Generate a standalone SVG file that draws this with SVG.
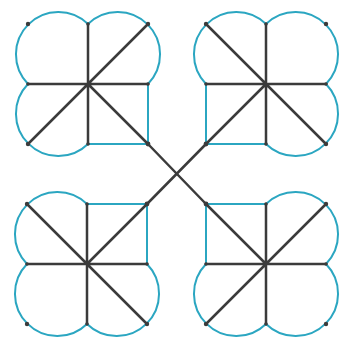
<svg xmlns="http://www.w3.org/2000/svg" width="345" height="342" viewBox="0 0 345 342">
<style>
.lobe{fill:none;stroke:#2ba6c1;stroke-width:2;stroke-linecap:round;stroke-linejoin:round}
.ln{fill:none;stroke:#3b3b3b;stroke-width:2.5;stroke-linecap:round}
.dot{fill:#3b3b3b}
</style>
<defs>
<g id="clover">
<path class="lobe" d="M -60 0 A 42.43 42.43 0 0 1 0 -60"/>
<path class="lobe" d="M 0 -60 A 42.43 42.43 0 0 1 60 0"/>
<path class="lobe" d="M 0 60 A 42.43 42.43 0 0 1 -60 0"/>
<path class="lobe" d="M 60 0 L 60 60 L 0 60"/>
<path class="ln" d="M 0 -60 V 60 M -60 0 H 60 M 60 -60 L -60 60 M 0 0 L 60 60"/>
<circle class="dot" cx="-60" cy="-60" r="2.2"/>
<circle class="dot" cx="60" cy="-60" r="2.2"/>
<circle class="dot" cx="-60" cy="60" r="2.2"/>
<circle class="dot" cx="60" cy="60" r="2.4"/>
<circle class="dot" cx="0" cy="-60" r="1.8"/>
<circle class="dot" cx="0" cy="60" r="1.8"/>
<circle class="dot" cx="-60" cy="0" r="1.8"/>
<circle class="dot" cx="60" cy="0" r="1.8"/>
</g>
</defs>
<g id="connectors">
<path class="ln" d="M 148 144 L 206 204"/>
<path class="ln" d="M 206 144 L 147 204"/>
</g>
<g id="clover-top-left" transform="translate(88,84)"><use href="#clover"/></g>
<g id="clover-top-right" transform="translate(266,84) scale(-1,1)"><use href="#clover"/></g>
<g id="clover-bottom-left" transform="translate(87,264) scale(1,-1)"><use href="#clover"/></g>
<g id="clover-bottom-right" transform="translate(266,264) scale(-1,-1)"><use href="#clover"/></g>
</svg>
